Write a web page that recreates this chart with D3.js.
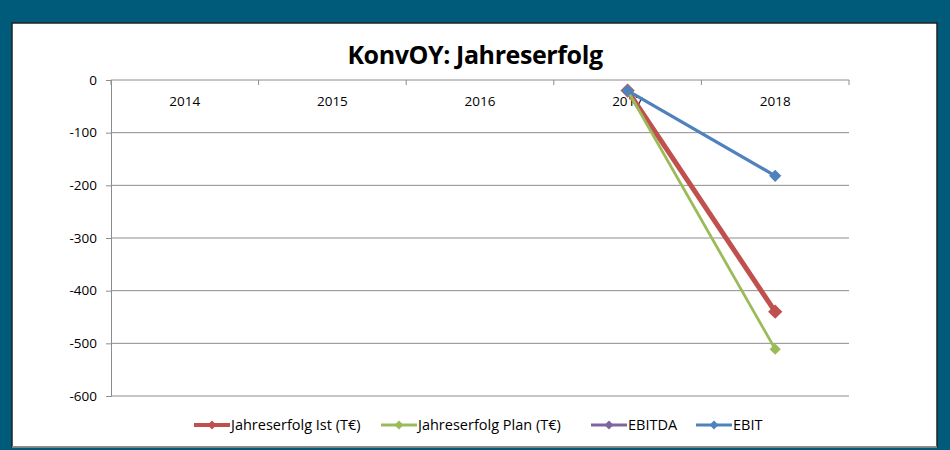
<!DOCTYPE html>
<html>
<head>
<meta charset="utf-8">
<title>KonvOY: Jahreserfolg</title>
<script src="https://d3js.org/d3.v7.min.js"></script>
<style>
  body { margin: 0; background: #005b7a; }
  text { font-family: "Open Sans", "Noto Sans", sans-serif; }
</style>
</head>
<body>
<script>
// data
const years = ["2014", "2015", "2016", "2017", "2018"];
const istValues = [null, null, null, -20, -440];
const planValues = [null, null, null, -20, -511];
const ebitdaValues = [null, null, null, null, null];
const ebitValues = [null, null, null, -20, -182];
const yTicks = [0, -100, -200, -300, -400, -500, -600];

const seriesNames = ["Jahreserfolg Ist (T€)", "Jahreserfolg Plan (T€)", "EBITDA", "EBIT"];
const seriesColors = ["#c0504d", "#9bbb59", "#8064a2", "#4f81bd"];
const seriesWidths = [5, 2.8, 2.8, 3.2];
const markerSizes = [130, 80, 80, 95];

const w = 950, h = 450;
const svg = d3.select("body").append("svg")
  .attr("width", w).attr("height", h)
  .style("display", "block");

// background + white panel
svg.append("rect").attr("width", w).attr("height", h).attr("fill", "#005b7a");
svg.append("rect")
  .attr("x", 12).attr("y", 23).attr("width", 925).attr("height", 424)
  .attr("fill", "white").attr("stroke", "#222").attr("stroke-width", 1.5);
svg.append("line")
  .attr("x1", 12).attr("x2", 937).attr("y1", 447).attr("y2", 447)
  .attr("stroke", "#a0a0a0").attr("stroke-width", 1.5);

svg.append("text")
  .attr("x", 475).attr("y", 64)
  .attr("text-anchor", "middle")
  .style("font-size", "25px").style("font-weight", "bold")
  .style("letter-spacing", "-0.4px")
  .text("KonvOY: Jahreserfolg");

const plotLeft = 111, plotRight = 849, plotTop = 80, plotBottom = 396;

const xScale = d3.scaleBand().domain(years).range([plotLeft, plotRight]);
const yScale = d3.scaleLinear().domain([-600, 0]).range([plotBottom, plotTop]);

// gridlines
svg.append("g")
  .selectAll("line")
  .data(yTicks)
  .join("line")
  .attr("x1", plotLeft).attr("x2", plotRight)
  .attr("y1", d => yScale(d)).attr("y2", d => yScale(d))
  .attr("stroke", "#8c8c8c").attr("stroke-width", 1);

// y axis (plain hyphen minus like the original)
const yAxis = d3.axisLeft(yScale).tickValues(yTicks).tickSize(5).tickPadding(9)
  .tickFormat(d => String(d));
const gy = svg.append("g").attr("transform", "translate(" + plotLeft + ",0)").call(yAxis);
gy.select(".domain").attr("stroke", "#8c8c8c");
gy.selectAll(".tick line").attr("stroke", "#8c8c8c");
gy.selectAll("text").style("font-size", "13.5px").attr("fill", "#000")
  .style("font-family", "'Open Sans', sans-serif");

// x axis at value 0, labels under the line
const gx = svg.append("g").attr("transform", "translate(0," + yScale(0) + ")");
gx.selectAll("line")
  .data(years.concat(["end"]))
  .join("line")
  .attr("x1", (d, i) => plotLeft + i * xScale.bandwidth())
  .attr("x2", (d, i) => plotLeft + i * xScale.bandwidth())
  .attr("y1", 0).attr("y2", 5)
  .attr("stroke", "#8c8c8c");
gx.selectAll("text")
  .data(years)
  .join("text")
  .attr("x", d => xScale(d) + xScale.bandwidth() / 2)
  .attr("y", 26)
  .attr("text-anchor", "middle")
  .style("font-size", "13.5px")
  .text(d => d);

// series
const allValues = [istValues, planValues, ebitdaValues, ebitValues];
const line = d3.line()
  .defined(d => d.v !== null)
  .x(d => xScale(d.year) + xScale.bandwidth() / 2)
  .y(d => yScale(d.v));

allValues.forEach((vals, s) => {
  const pts = years.map((y, i) => ({ year: y, v: vals[i] }));
  const g = svg.append("g");
  g.append("path")
    .datum(pts)
    .attr("d", line)
    .attr("fill", "none")
    .attr("stroke", seriesColors[s])
    .attr("stroke-width", seriesWidths[s]);
  g.selectAll("path.m")
    .data(pts.filter(d => d.v !== null))
    .join("path")
    .attr("class", "m")
    .attr("d", d3.symbol(d3.symbolDiamond2, markerSizes[s]))
    .attr("transform", d => "translate(" + (xScale(d.year) + xScale.bandwidth() / 2) + "," + yScale(d.v) + ")")
    .attr("fill", seriesColors[s]);
});

// legend
const legendX = [194, 381, 591, 696];
const legend = svg.append("g").attr("transform", "translate(0,425)");
seriesNames.forEach((name, s) => {
  const g = legend.append("g").attr("transform", "translate(" + legendX[s] + ",0)");
  g.append("line").attr("x1", 0).attr("x2", 36).attr("y1", 0).attr("y2", 0)
    .attr("stroke", seriesColors[s]).attr("stroke-width", s === 0 ? 4 : 3);
  g.append("path").attr("d", d3.symbol(d3.symbolDiamond2, 50))
    .attr("transform", "translate(18,0)").attr("fill", seriesColors[s]);
  g.append("text").attr("x", 37).attr("y", 5)
    .style("font-size", "14.5px").text(name);
});
</script>
</body>
</html>
